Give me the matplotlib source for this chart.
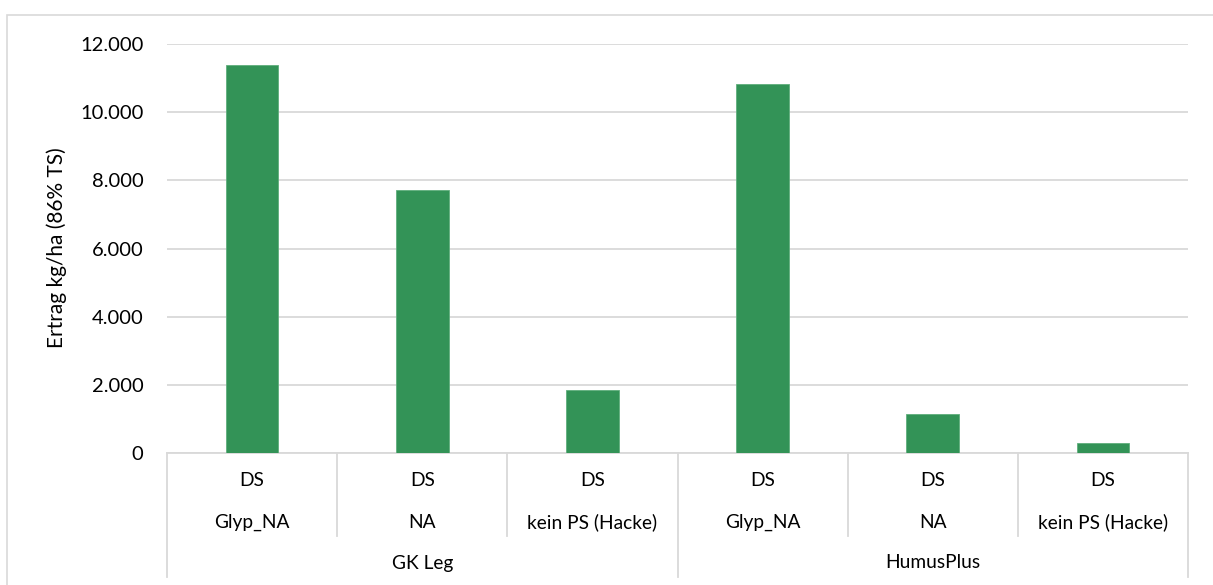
import matplotlib
matplotlib.use("Agg")
import matplotlib.pyplot as plt
from matplotlib import transforms
from matplotlib.ticker import FuncFormatter, MultipleLocator
from matplotlib.patches import Rectangle

plt.rcParams['font.family'] = ['Lato', 'DejaVu Sans']

# Data
groups = ["GK Leg", "HumusPlus"]
treatments = ["Glyp_NA", "NA", "kein PS (Hacke)"]
method = "DS"
ertrag_gk_leg = [11370, 7710, 1850]
ertrag_humusplus = [10830, 1140, 285]
y_label = "Ertrag kg/ha (86% TS)"

values = ertrag_gk_leg + ertrag_humusplus
n_sub = len(treatments)
n = len(values)

W, H = 1213, 585
fig = plt.figure(figsize=(W / 100, H / 100), dpi=100)
fig.patch.set_facecolor("white")

# outer chart-area frame
fig.patches.append(Rectangle((7 / W, -0.1), 1.1, 1 - 15 / H + 0.1,
                             transform=fig.transFigure, fill=False,
                             edgecolor="#d9d9d9", linewidth=1.2))

left, right, top, bottom = 167, 1188, 44, 453
ax = fig.add_axes([left / W, 1 - bottom / H, (right - left) / W, (bottom - top) / H])

xs = list(range(n))
ax.bar(xs, values, width=0.31, color="#339357", edgecolor="#5fae7c",
       linewidth=0.6, zorder=3)

ax.set_xlim(-0.5, n - 0.5)
ax.set_ylim(0, 12000)
ax.yaxis.set_major_locator(MultipleLocator(2000))
ax.yaxis.set_major_formatter(FuncFormatter(lambda v, p: f"{v:,.0f}".replace(",", ".")))
ax.grid(axis="y", color="#d9d9d9", linewidth=1.3, zorder=0)
ax.set_axisbelow(True)
for s in ["top", "right", "left"]:
    ax.spines[s].set_visible(False)
ax.spines["bottom"].set_color("#d9d9d9")
ax.spines["bottom"].set_linewidth(1.3)
ax.tick_params(axis="y", length=0, labelsize=14.5, pad=17, labelcolor="#000000")
ax.tick_params(axis="x", length=0, labelbottom=False)

fig.text(57 / W, 1 - 248 / H, y_label, rotation=90, ha="center", va="center",
         fontsize=15)

# multi-level category axis
tr = transforms.blended_transform_factory(ax.transData, fig.transFigure)

def fy(py):
    return 1 - py / H

for i in range(n + 1):
    x = i - 0.5
    full = (i % n_sub == 0)
    y_end = 577 if full else 536
    ax.plot([x, x], [fy(bottom), fy(y_end)], transform=tr, color="#d9d9d9",
            linewidth=1.3, clip_on=False)

for i in range(n):
    ax.text(i, fy(480), method, transform=tr, ha="center", va="center", fontsize=13.8)
    ax.text(i, fy(522), treatments[i % n_sub], transform=tr, ha="center",
            va="center", fontsize=13.8)

for g, name in enumerate(groups):
    xc = g * n_sub + (n_sub - 1) / 2
    ax.text(xc, fy(563), name, transform=tr, ha="center", va="center", fontsize=13.8)

fig.savefig("out.png", dpi=100, facecolor="white")
